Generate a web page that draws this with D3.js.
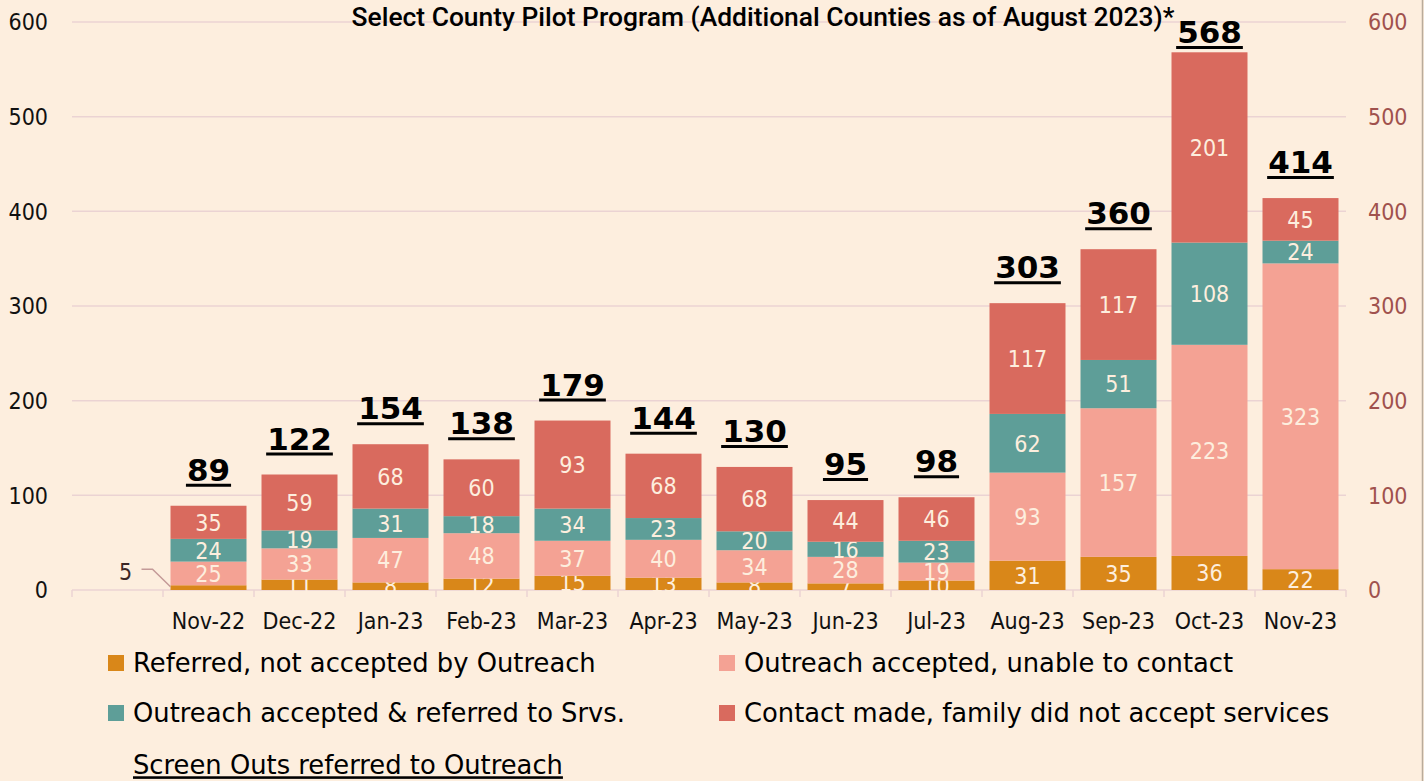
<!DOCTYPE html>
<html>
<head>
<meta charset="utf-8">
<script src="https://cdn.jsdelivr.net/npm/d3@7"></script>
<style>
  body { margin: 0; background: #fdeede; }
  svg { display: block; }
</style>
</head>
<body>
<div id="chart"></div>
<script>
var months = ["", "Nov-22", "Dec-22", "Jan-23", "Feb-23", "Mar-23", "Apr-23", "May-23",
              "Jun-23", "Jul-23", "Aug-23", "Sep-23", "Oct-23", "Nov-23"];

var referred   = [null, 5, 11, 8, 12, 15, 13, 8, 7, 10, 31, 35, 36, 22];
var unable     = [null, 25, 33, 47, 48, 37, 40, 34, 28, 19, 93, 157, 223, 323];
var toServices = [null, 24, 19, 31, 18, 34, 23, 20, 16, 23, 62, 51, 108, 24];
var declined   = [null, 35, 59, 68, 60, 93, 68, 68, 44, 46, 117, 117, 201, 45];
var totals     = [null, 89, 122, 154, 138, 179, 144, 130, 95, 98, 303, 360, 568, 414];

var seriesNames = ["Referred, not accepted by Outreach", "Outreach accepted, unable to contact",
                   "Outreach accepted & referred to Srvs.", "Contact made, family did not accept services"];
var seriesColors = ["#d98719", "#f4a294", "#5e9e98", "#d96a5e"];
var yTicks = [0, 100, 200, 300, 400, 500, 600];

var width = 1424, height = 781;
var margin = { top: 22, right: 78, bottom: 191, left: 72 };
var font = "'DejaVu Sans Condensed', 'DejaVu Sans', sans-serif";
var legendFont = "'DejaVu Sans', sans-serif";

var svg = d3.select("#chart").append("svg")
    .attr("width", width)
    .attr("height", height)
    .style("background", "#fdeede");

var x = d3.scaleBand()
    .domain(months)
    .range([margin.left, width - margin.right])
    .paddingInner(0.165)
    .paddingOuter(0.0825);

var y = d3.scaleLinear()
    .domain([0, 600])
    .range([height - margin.bottom, margin.top]);

// gridlines
svg.append("g")
    .selectAll("line")
    .data(yTicks)
    .join("line")
    .attr("x1", margin.left)
    .attr("x2", width - margin.right)
    .attr("y1", d => y(d))
    .attr("y2", d => y(d))
    .attr("stroke", "#ebd3d3")
    .attr("stroke-width", 1.5);

// category boundary ticks
var half = x.step() * x.paddingInner() / 2;
svg.append("g")
    .selectAll("line")
    .data(months)
    .join("line")
    .attr("x1", d => x(d) - half)
    .attr("x2", d => x(d) - half)
    .attr("y1", y(0))
    .attr("y2", y(0) + 7)
    .attr("stroke", "#ebd3d3")
    .attr("stroke-width", 1.5);
svg.append("line")
    .attr("x1", width - margin.right).attr("x2", width - margin.right)
    .attr("y1", y(0)).attr("y2", y(0) + 7)
    .attr("stroke", "#ebd3d3").attr("stroke-width", 1.5);

// left axis
svg.append("g")
    .selectAll("text")
    .data(yTicks)
    .join("text")
    .attr("x", 48)
    .attr("y", d => y(d))
    .attr("dy", "0.36em")
    .attr("text-anchor", "end")
    .style("font-family", font)
    .style("font-size", "23px")
    .attr("fill", "#111")
    .text(d => d);

// right axis
svg.append("g")
    .selectAll("text")
    .data(yTicks)
    .join("text")
    .attr("x", 1368)
    .attr("y", d => y(d))
    .attr("dy", "0.36em")
    .attr("text-anchor", "start")
    .style("font-family", font)
    .style("font-size", "23px")
    .attr("fill", "#a0514d")
    .text(d => d);

// x axis labels
svg.append("g")
    .attr("transform", `translate(0,${y(0)})`)
    .call(d3.axisBottom(x).tickSize(0).tickPadding(23))
    .call(g => g.select(".domain").remove())
    .selectAll("text")
    .style("font-family", font)
    .style("font-size", "23px")
    .attr("fill", "#111");

// stacked bars
var table = months.map((m, i) => ({
    month: m,
    values: [referred[i], unable[i], toServices[i], declined[i]],
    total: totals[i]
})).filter(d => d.total != null);

var stackData = table.map(d => {
    var o = { month: d.month };
    d.values.forEach((v, k) => { o["s" + k] = v; });
    return o;
});
var stack = d3.stack().keys(["s0", "s1", "s2", "s3"])(stackData);

var layers = svg.append("g")
    .selectAll("g")
    .data(stack)
    .join("g")
    .attr("fill", (d, i) => seriesColors[i]);

layers.selectAll("rect")
    .data(d => d)
    .join("rect")
    .attr("x", d => x(d.data.month))
    .attr("y", d => y(d[1]))
    .attr("width", x.bandwidth())
    .attr("height", d => y(d[0]) - y(d[1]));

// segment labels
layers.selectAll("text")
    .data(d => d)
    .join("text")
    .filter(d => !(d.data.month == "Nov-22" && d[1] - d[0] < 8))
    .attr("x", d => x(d.data.month) + x.bandwidth() / 2)
    .attr("y", d => y((d[0] + d[1]) / 2))
    .attr("dy", "0.36em")
    .attr("text-anchor", "middle")
    .style("font-family", font)
    .style("font-size", "23px")
    .attr("fill", "#fdeede")
    .text(d => d[1] - d[0]);

// small Nov-22 label with leader line
var first = stack[0][0];
var fx = x(first.data.month);
svg.append("path")
    .attr("d", `M${fx - 29},${y(22)} L${fx - 18},${y(22)} L${fx},${y(first[1] / 2 + 1)}`)
    .attr("fill", "none")
    .attr("stroke", "#c49a98")
    .attr("stroke-width", 1.5);
svg.append("text")
    .attr("x", fx - 45)
    .attr("y", y(19))
    .attr("dy", "0.36em")
    .attr("text-anchor", "middle")
    .style("font-family", font)
    .style("font-size", "23px")
    .attr("fill", "#3a2626")
    .text(first[1] - first[0]);

// totals (underlined, kept inside the plot top)
var totalG = svg.append("g")
    .selectAll("g")
    .data(table)
    .join("g");
totalG.append("text")
    .attr("class", "total")
    .attr("x", d => x(d.month) + x.bandwidth() / 2)
    .attr("y", d => Math.max(y(d.total) - 25, margin.top + 21))
    .attr("text-anchor", "middle")
    .style("font-family", "'DejaVu Sans', sans-serif")
    .style("font-weight", "bold")
    .style("font-size", "31px")
    .attr("fill", "#000")
    .text(d => d.total);
totalG.each(function (d) {
    var t = d3.select(this).select("text");
    var w = t.node().getComputedTextLength();
    var cx = x(d.month) + x.bandwidth() / 2;
    var by = +t.attr("y") + 4.5;
    d3.select(this).append("line")
        .attr("x1", cx - w / 2 - 1)
        .attr("x2", cx + w / 2 + 1)
        .attr("y1", by)
        .attr("y2", by)
        .attr("stroke", "#000")
        .attr("stroke-width", 3);
});

// title
svg.append("text")
    .attr("x", 763)
    .attr("y", 26)
    .attr("text-anchor", "middle")
    .style("font-family", "Roboto, sans-serif")
    .style("font-weight", 500)
    .style("font-size", "26.4px")
    .attr("fill", "#000")
    .text("Select County Pilot Program (Additional Counties as of August 2023)*");

// legend
var legendPos = [[108, 663], [719, 663], [108, 713], [719, 713]];
var legend = svg.append("g")
    .selectAll("g")
    .data(seriesNames)
    .join("g")
    .attr("transform", (d, i) => `translate(${legendPos[i][0]},${legendPos[i][1]})`);
legend.append("rect")
    .attr("x", 0).attr("y", -8)
    .attr("width", 16).attr("height", 16)
    .attr("fill", (d, i) => seriesColors[i]);
legend.append("text")
    .attr("x", 25)
    .attr("dy", "0.36em")
    .style("font-family", legendFont)
    .style("font-size", "25.8px")
    .attr("fill", "#000")
    .text(d => d);

svg.append("text")
    .attr("x", 133)
    .attr("y", 765)
    .attr("dy", "0.36em")
    .style("font-family", legendFont)
    .style("font-size", "25.8px")
    .style("text-decoration", "underline")
    .attr("fill", "#000")
    .text("Screen Outs referred to Outreach");

// right border
svg.append("line")
    .attr("x1", width - 1.5).attr("x2", width - 1.5)
    .attr("y1", 0).attr("y2", height)
    .attr("stroke", "#b9ab9b")
    .attr("stroke-width", 1.5);
</script>
</body>
</html>
